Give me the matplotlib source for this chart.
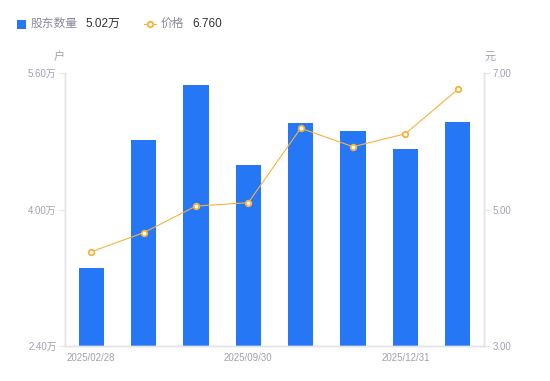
import numpy as np
import matplotlib
matplotlib.use("Agg")
import matplotlib.pyplot as plt
from matplotlib.patches import Rectangle
from matplotlib.lines import Line2D

plt.rcParams['font.family'] = ['Liberation Sans', 'Noto Sans CJK SC', 'DejaVu Sans']

dates = ['2025/02/28', '', '', '2025/09/30', '', '', '2025/12/31', '']
holders = [3.31, 4.82, 5.46, 4.52, 5.01, 4.92, 4.71, 5.02]   # 万户
price = [4.38, 4.66, 5.05, 5.10, 6.19, 5.92, 6.11, 6.76]

bar_color = '#2677F5'
line_color = '#F6B23C'
axis_color = '#E3E3E8'
label_color = '#A0A0B2'

fig = plt.figure(figsize=(5.5, 3.81), dpi=100)
ax = fig.add_axes([65 / 550, 35 / 381, 419 / 550, 273 / 381])
ax2 = ax.twinx()

x = np.arange(len(holders))
ax.bar(x, holders, width=0.48, color=bar_color, zorder=2)
ax2.plot(x, price, color=line_color, lw=0.8, marker='o', markersize=4,
         markerfacecolor='white', markeredgecolor=line_color, markeredgewidth=1.3, zorder=3)

ax.set_xlim(-0.5, len(holders) - 0.5)
ax.set_ylim(2.4, 5.6)
ax2.set_ylim(3.0, 7.0)

ax.set_yticks([2.4, 4.0, 5.6])
ax.set_yticklabels([f'{v:.2f}万' for v in [2.4, 4.0, 5.6]])
ax2.set_yticks([3.0, 5.0, 7.0])
ax2.set_yticklabels([f'{v:.2f}' for v in [3.0, 5.0, 7.0]])

shown = [i for i, d in enumerate(dates) if d]
ax.set_xticks(shown)
ax.set_xticklabels([dates[i] for i in shown])

for a in (ax, ax2):
    a.spines['top'].set_visible(False)
    for s in ('left', 'right', 'bottom'):
        a.spines[s].set_color(axis_color)
        a.spines[s].set_linewidth(1.0)
ax.tick_params(axis='y', length=4, width=0.8, color=axis_color, labelsize=7, labelcolor=label_color, pad=2)
ax2.tick_params(axis='y', length=4, width=0.8, color=axis_color, labelsize=7, labelcolor=label_color, pad=2)
ax.tick_params(axis='x', length=0, labelsize=7, labelcolor=label_color, pad=5)

# unit labels
fig.text(59 / 550, 1 - 57 / 381, '户', fontsize=8, color=label_color, ha='center', va='center')
fig.text(490 / 550, 1 - 57 / 381, '元', fontsize=8, color=label_color, ha='center', va='center')

# legend
ly = 1 - 24 / 381
fig.add_artist(Rectangle((17 / 550, ly - 4.5 / 381), 9 / 550, 9 / 381,
                         transform=fig.transFigure, color=bar_color, lw=0))
fig.text(31 / 550, ly, '股东数量', fontsize=8.5, color='#888899', ha='left', va='center')
fig.text(85 / 550, ly, f'{holders[-1]:.2f}万', fontsize=8.5, color='#333333', ha='left', va='center')
fig.add_artist(Line2D([144 / 550, 156 / 550], [ly, ly], transform=fig.transFigure,
                      color=line_color, lw=0.8, marker='o', markevery=[0], markersize=0))
fig.add_artist(Line2D([150 / 550], [ly], transform=fig.transFigure, color=line_color,
                      marker='o', markersize=4, markerfacecolor='white', markeredgewidth=1.3))
fig.text(161 / 550, ly, '价格', fontsize=8.5, color='#888899', ha='left', va='center')
fig.text(192 / 550, ly, f'{price[-1]:.3f}', fontsize=8.5, color='#333333', ha='left', va='center')

fig.savefig('out.png', dpi=100)
